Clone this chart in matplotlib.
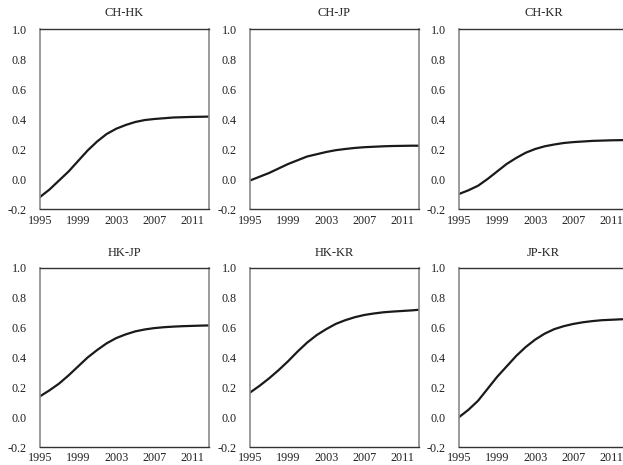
import matplotlib
matplotlib.use("Agg")
import matplotlib.pyplot as plt

years = [1995, 1996, 1997, 1998, 1999, 2000, 2001, 2002, 2003, 2004, 2005,
         2006, 2007, 2008, 2009, 2010, 2011, 2012, 2012.75]

ch_hk = [-0.12, -0.07, -0.01, 0.05, 0.12, 0.19, 0.25, 0.30, 0.335, 0.36, 0.38,
         0.393, 0.40, 0.405, 0.41, 0.412, 0.414, 0.415, 0.416]
ch_jp = [-0.01, 0.015, 0.04, 0.07, 0.10, 0.125, 0.15, 0.165, 0.18, 0.192, 0.20,
         0.207, 0.212, 0.215, 0.218, 0.22, 0.221, 0.222, 0.222]
ch_kr = [-0.10, -0.075, -0.045, 0.0, 0.05, 0.10, 0.14, 0.175, 0.20, 0.218, 0.23,
         0.24, 0.246, 0.25, 0.254, 0.256, 0.258, 0.259, 0.26]
hk_jp = [0.14, 0.18, 0.225, 0.28, 0.34, 0.40, 0.45, 0.495, 0.53, 0.555, 0.575,
         0.588, 0.597, 0.603, 0.607, 0.61, 0.612, 0.614, 0.615]
hk_kr = [0.165, 0.21, 0.26, 0.315, 0.375, 0.44, 0.50, 0.55, 0.59, 0.625, 0.65,
         0.67, 0.685, 0.695, 0.703, 0.708, 0.712, 0.716, 0.72]
jp_kr = [0.0, 0.05, 0.11, 0.19, 0.27, 0.34, 0.41, 0.47, 0.52, 0.56, 0.59,
         0.61, 0.625, 0.636, 0.644, 0.65, 0.653, 0.656, 0.658]

titles = ["CH-HK", "CH-JP", "CH-KR", "HK-JP", "HK-KR", "JP-KR"]
series = [ch_hk, ch_jp, ch_kr, hk_jp, hk_kr, jp_kr]
x_ticks = [1995, 1999, 2003, 2007, 2011]
y_ticks = [-0.2, 0.0, 0.2, 0.4, 0.6, 0.8, 1.0]

plt.rcParams['font.family'] = ['Liberation Serif', 'DejaVu Serif']

W, H = 623, 465
fig = plt.figure(figsize=(W / 100, H / 100), dpi=100)

col_left = [40, 250, 459]
row_top = [(29, 209), (268, 447)]
aw = 169

for i, (t, s) in enumerate(zip(titles, series)):
    r, c = divmod(i, 3)
    top, bot = row_top[r]
    ax = fig.add_axes([col_left[c] / W, 1 - bot / H, aw / W, (bot - top) / H])
    ax.plot(years, s, color='#1a1a1a', lw=1.6)
    ax.set_xlim(1995, 2012.75)
    ax.set_ylim(-0.2, 1.0)
    ax.set_xticks(x_ticks)
    ax.set_xticklabels([str(v) for v in x_ticks])
    ax.set_yticks(y_ticks)
    ax.set_yticklabels([f"{v:.1f}" for v in y_ticks])
    ax.tick_params(length=0, labelsize=8.7, colors='#222222')
    ax.tick_params(axis='y', pad=9.5)
    ax.tick_params(axis='x', pad=4.5 if r == 0 else 3.5)
    for name in ('left', 'right'):
        ax.spines[name].set_color('#8a8a8a')
        ax.spines[name].set_linewidth(1.2)
    for name in ('top', 'bottom'):
        ax.spines[name].set_color('#333333')
        ax.spines[name].set_linewidth(1.0)
    ax.set_title(t, fontsize=9, pad=9, color='#222222')

fig.savefig("out.png", dpi=100)
